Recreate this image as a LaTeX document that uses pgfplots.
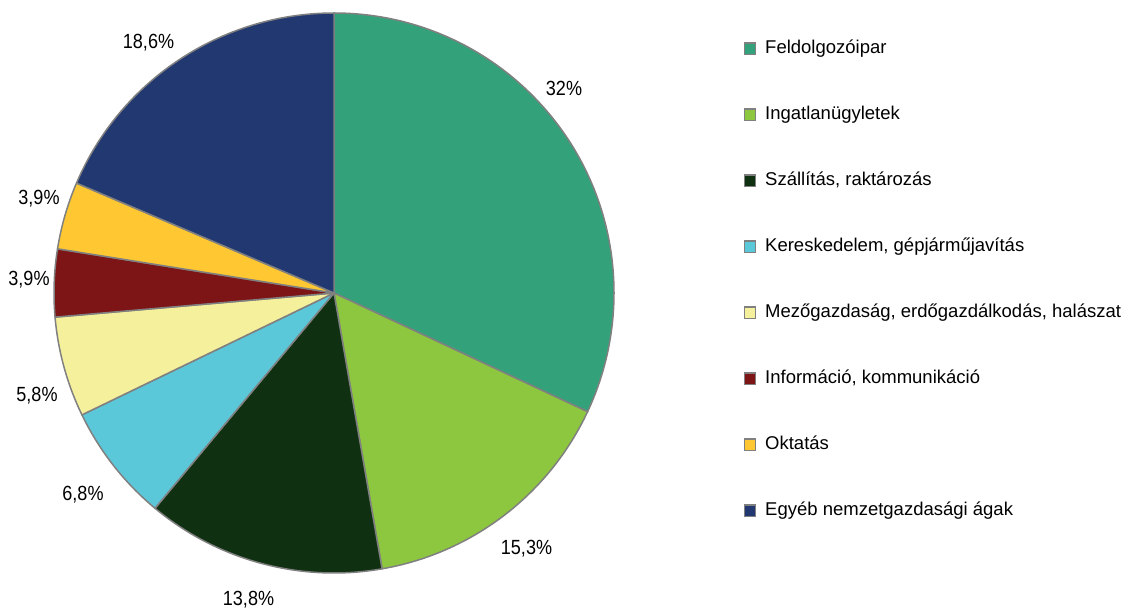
\documentclass[border=0pt]{standalone}
\usepackage{pgfplots}
\pgfplotsset{compat=1.18}
\usepackage{fontspec}
\setmainfont{Liberation Sans}
\newfontfamily\lblfont[FakeStretch=0.88]{Liberation Sans}
\definecolor{cA}{RGB}{51,162,122}
\definecolor{cB}{RGB}{141,198,63}
\definecolor{cC}{RGB}{16,48,18}
\definecolor{cD}{RGB}{91,200,218}
\definecolor{cE}{RGB}{245,240,155}
\definecolor{cF}{RGB}{125,20,22}
\definecolor{cG}{RGB}{255,200,50}
\definecolor{cH}{RGB}{33,56,112}
\definecolor{edge}{RGB}{128,128,128}
\newcommand\slice[3]{\filldraw[fill=#3, draw=edge, line width=1.5pt, line join=round] (axis cs:334,315) -- ++(#1:280pt) arc[start angle=#1, end angle=#2, radius=280pt] -- cycle;}
\newcommand\lbl[3]{\node[font=\lblfont\fontsize{20.5}{22}\selectfont, text height=14.7pt, text depth=0pt, inner sep=0pt, anchor=center] at (axis cs:#1,#2) {#3};}
\begin{document}
\begin{tikzpicture}
\def\tot{100.1}
\pgfmathsetmacro\aA{90}
\pgfmathsetmacro\aB{\aA-32*360/\tot}
\pgfmathsetmacro\aC{\aB-15.3*360/\tot}
\pgfmathsetmacro\aD{\aC-13.8*360/\tot}
\pgfmathsetmacro\aE{\aD-6.8*360/\tot}
\pgfmathsetmacro\aF{\aE-5.8*360/\tot}
\pgfmathsetmacro\aG{\aF-3.9*360/\tot}
\pgfmathsetmacro\aH{\aG-3.9*360/\tot}
\pgfmathsetmacro\aI{\aH-18.6*360/\tot}
\path[use as bounding box] (0,0) rectangle (1125pt,608pt);
\begin{axis}[x=1pt, y=1pt, xmin=0, xmax=1125, ymin=0, ymax=608,
  hide axis, clip=false, anchor=origin, at={(0,0)},
  legend image code/.code={\draw[#1] (0pt,-5.5pt) rectangle (11.5pt,6pt);},
  legend style={font=\fontsize{18.5}{20}\selectfont, draw=none, fill=none,
    inner sep=0pt, outer sep=0pt, row sep=49pt, column sep=9pt,
    nodes={inner sep=0pt, text height=13pt, text depth=4pt},
    cells={anchor=west},
    at={(axis cs:743.5,567.5)}, anchor=north west},
  legend cell align=left]
\slice{\aA}{\aB}{cA}
\slice{\aB}{\aC}{cB}
\slice{\aC}{\aD}{cC}
\slice{\aD}{\aE}{cD}
\slice{\aE}{\aF}{cE}
\slice{\aF}{\aG}{cF}
\slice{\aG}{\aH}{cG}
\slice{\aH}{\aI}{cH}
\lbl{564}{519.5}{32\%}
\lbl{526.5}{61}{15,3\%}
\lbl{248.5}{10}{13,8\%}
\lbl{83}{115}{6,8\%}
\lbl{37}{214}{5,8\%}
\lbl{29}{330}{3,9\%}
\lbl{39}{411}{3,9\%}
\lbl{148.5}{567}{18,6\%}
\addlegendimage{fill=cA, draw=edge, line width=1.2pt}
\addlegendentry{Feldolgozóipar}
\addlegendimage{fill=cB, draw=edge, line width=1.2pt}
\addlegendentry{Ingatlanügyletek}
\addlegendimage{fill=cC, draw=edge, line width=1.2pt}
\addlegendentry{Szállítás, raktározás}
\addlegendimage{fill=cD, draw=edge, line width=1.2pt}
\addlegendentry{Kereskedelem, gépjárműjavítás}
\addlegendimage{fill=cE, draw=edge, line width=1.2pt}
\addlegendentry{Mezőgazdaság, erdőgazdálkodás, halászat}
\addlegendimage{fill=cF, draw=edge, line width=1.2pt}
\addlegendentry{Információ, kommunikáció}
\addlegendimage{fill=cG, draw=edge, line width=1.2pt}
\addlegendentry{Oktatás}
\addlegendimage{fill=cH, draw=edge, line width=1.2pt}
\addlegendentry{Egyéb nemzetgazdasági ágak}
\end{axis}
\end{tikzpicture}
\end{document}
